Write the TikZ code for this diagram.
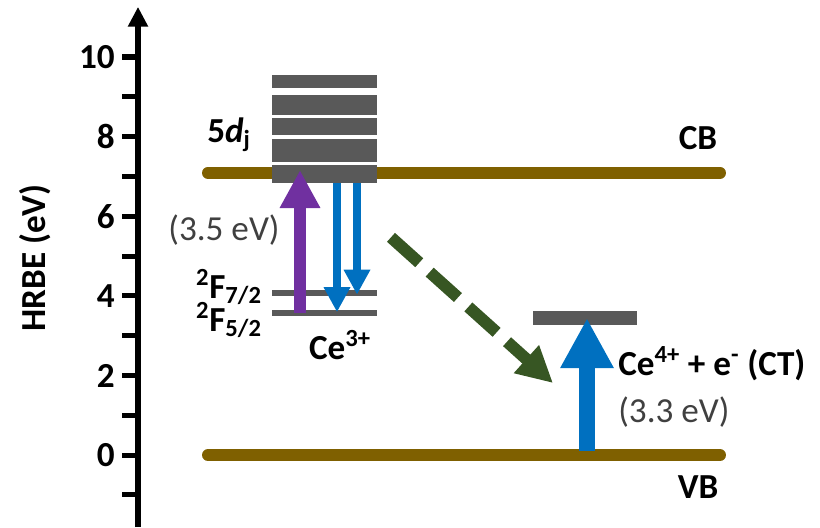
\documentclass[tikz,border=0pt]{standalone}
\usepackage{fontspec}
\setmainfont{Carlito}
\usepackage{xcolor}
\usepackage{tikz}
\usetikzlibrary{arrows.meta}
\definecolor{bandcol}{HTML}{7F6000}
\definecolor{levelgray}{HTML}{595959}
\definecolor{excpurple}{HTML}{7030A0}
\definecolor{emblue}{HTML}{0070C0}
\definecolor{ctgreen}{HTML}{375623}
\definecolor{txtgray}{HTML}{404040}

\begin{document}
\begin{tikzpicture}[x=0.025cm,y=0.995cm]
                \useasboundingbox (0,-1.809) rectangle (820,11.432);
                \tikzset{every node/.style={font=\fontsize{25}{30}\selectfont\bfseries,inner sep=0pt}}
                \tikzstyle{band}=[bandcol,line width=8.5pt,line cap=round]
                \tikzstyle{flevel}=[levelgray,line width=4.3pt]
                \tikzstyle{axis}=[line width=4.3pt,-{Triangle[width=13.5pt,length=14pt]}]
                \tikzstyle{tick}=[line width=3.6pt]
                \tikzstyle{excarrow}=[excpurple,line width=8.5pt,-{Triangle[width=27pt,length=27pt]}]
                \tikzstyle{emarrow}=[emblue,line width=5pt,-{Triangle[width=17.8pt,length=17.8pt]}]
                \tikzstyle{ctarrow}=[emblue,line width=11.4pt,-{Triangle[width=35.6pt,length=35.6pt]}]
                \tikzstyle{transfer}=[ctgreen,line width=8.5pt,dash pattern=on 27pt off 10pt,-{Triangle[width=25pt,length=25.5pt]}]
                \tikzstyle{plain}=[txtgray,font=\fontsize{25}{30}\selectfont\mdseries]
                \newcommand\dstripe[2]{\fill[levelgray] (272,#1) rectangle (377,#2);}
                \coordinate (axbot) at (138,-1.809);
                \coordinate (axtop) at (138,11.26);
                \draw[axis] (axbot) -- (axtop);
                \foreach \e in {-1,...,10} \draw[tick] (122,\e) -- (138,\e);
                \foreach \e in {0,2,...,10} \node[anchor=east] (t\e) at (115,\e) {\e};
                \node[rotate=90] (ylab) at (35,4.95) {HRBE (eV)};
                \coordinate (cbl) at (208,7.09);
                \coordinate (cbr) at (720,7.09);
                \coordinate (vbl) at (208,0);
                \coordinate (vbr) at (720,0);
                \draw[band] (cbl) -- (cbr);
                \draw[band] (vbl) -- (vbr);
                \dstripe{9.55}{9.22}
                \dstripe{9.05}{8.54}
                \dstripe{8.47}{8.04}
                \dstripe{7.94}{7.36}
                \dstripe{7.29}{6.83}
                \draw[flevel] (272,4.07) -- (377,4.07);
                \draw[flevel] (272,3.57) -- (377,3.57);
                \fill[levelgray] (533,3.62) rectangle (637,3.27);
                \coordinate (f52) at (300,3.57);
                \coordinate (dtop) at (300,7.16);
                \coordinate (da) at (337,6.83);
                \coordinate (fa) at (337,3.59);
                \coordinate (db) at (357,6.83);
                \coordinate (fb) at (357,4.03);
                \coordinate (vbct) at (587,0.1);
                \coordinate (ct) at (587,3.44);
                \coordinate (tstart) at (391,5.47);
                \coordinate (tend) at (553,1.81);
                \draw[excarrow] (f52) -- (dtop);
                \draw[emarrow] (da) -- (fa);
                \draw[emarrow] (db) -- (fb);
                \draw[ctarrow] (vbct) -- (ct);
                \draw[transfer] (tstart) -- (tend);
                \node (cb) at (698,7.96) {CB};
                \node (vb) at (698,-0.80) {VB};
                \node[anchor=east] (dj) at (251,8.04) {5\textit{d}\textsubscript{j}};
                \node[plain] (e35) at (224,5.65) {(3.5 eV)};
                \node[anchor=east] (f72) at (262,4.22) {\textsuperscript{2}F\textsubscript{7/2}};
                \node[anchor=east] (f52l) at (262,3.39) {\textsuperscript{2}F\textsubscript{5/2}};
                \node (ce3) at (340,2.76) {Ce\textsuperscript{3+}};
                \node[anchor=west] (ce4) at (618,2.29) {Ce\textsuperscript{4+} + e\textsuperscript{-} (CT)};
                \node[plain,anchor=west] (e33) at (618,1.08) {(3.3 eV)};
\end{tikzpicture}
\end{document}
